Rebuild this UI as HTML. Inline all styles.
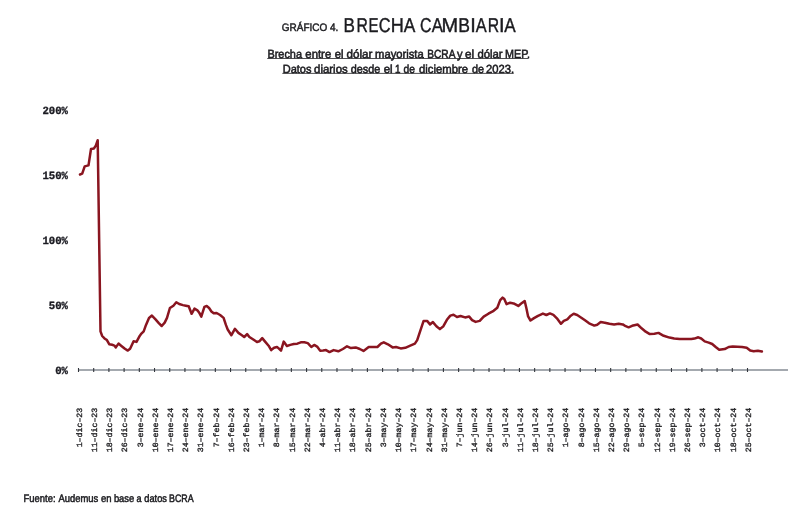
<!DOCTYPE html>
<html><head><meta charset="utf-8">
<style>
html,body{margin:0;padding:0;background:#fff;}
body{width:800px;height:516px;overflow:hidden;}
svg{display:block;will-change:transform;} text{text-rendering:geometricPrecision;}
.sans{font-family:"Liberation Sans",sans-serif;}
.mono{font-family:"Liberation Mono",monospace;}
</style></head><body>
<svg width="800" height="516" viewBox="0 0 800 516">
<rect width="800" height="516" fill="#fff"/>
<g class="sans" fill="#1b1b1f" stroke="#1b1b1f" stroke-width="0.3">
<text x="281.8" y="31.4" font-size="10.8" stroke-width="0.45" textLength="56.6" lengthAdjust="spacingAndGlyphs">GRÁFICO 4.</text>
<text transform="translate(343.55,31.75) scale(0.855,1)" font-size="20.0" stroke-width="0.4">B</text><text transform="translate(356.41,31.75) scale(0.787,1)" font-size="20.0" stroke-width="0.4">R</text><text transform="translate(368.47,31.75) scale(0.747,1)" font-size="20.0" stroke-width="0.4">E</text><text transform="translate(378.87,31.75) scale(0.817,1)" font-size="20.0" stroke-width="0.4">C</text><text transform="translate(390.72,31.75) scale(0.904,1)" font-size="20.0" stroke-width="0.4">H</text><text transform="translate(403.67,31.75) scale(0.867,1)" font-size="20.0" stroke-width="0.4">A</text><text transform="translate(419.89,31.75) scale(0.797,1)" font-size="20.0" stroke-width="0.4">C</text><text transform="translate(431.67,31.75) scale(0.837,1)" font-size="20.0" stroke-width="0.4">A</text><text transform="translate(441.42,31.75) scale(1.000,1)" font-size="20.0" stroke-width="0.4">M</text><text transform="translate(458.26,31.75) scale(0.878,1)" font-size="20.0" stroke-width="0.4">B</text><text transform="translate(470.22,31.75) scale(1.000,1)" font-size="20.0" stroke-width="0.4">I</text><text transform="translate(475.67,31.75) scale(0.818,1)" font-size="20.0" stroke-width="0.4">A</text><text transform="translate(487.66,31.75) scale(0.787,1)" font-size="20.0" stroke-width="0.4">R</text><text transform="translate(498.97,31.75) scale(1.000,1)" font-size="20.0" stroke-width="0.4">I</text><text transform="translate(504.17,31.75) scale(0.856,1)" font-size="20.0" stroke-width="0.4">A</text>
<text x="267.44" y="57.6" font-size="11.8" textLength="34.57" lengthAdjust="spacingAndGlyphs" stroke-width="0.55">Brecha</text><text x="305.32" y="57.6" font-size="11.8" textLength="25.88" lengthAdjust="spacingAndGlyphs" stroke-width="0.55">entre</text><text x="334.68" y="57.6" font-size="11.8" textLength="8.76" lengthAdjust="spacingAndGlyphs" stroke-width="0.55">el</text><text x="346.44" y="57.6" font-size="11.8" textLength="25.88" lengthAdjust="spacingAndGlyphs" stroke-width="0.55">dólar</text><text x="375.05" y="57.6" font-size="11.8" textLength="48.65" lengthAdjust="spacingAndGlyphs" stroke-width="0.55">mayorista</text><text x="427.25" y="57.6" font-size="11.8" textLength="28.18" lengthAdjust="spacingAndGlyphs" stroke-width="0.55">BCRA</text><text x="456.97" y="57.6" font-size="11.8" textLength="5.55" lengthAdjust="spacingAndGlyphs" stroke-width="0.55">y</text><text x="464.95" y="57.6" font-size="11.8" textLength="9.18" lengthAdjust="spacingAndGlyphs" stroke-width="0.55">el</text><text x="477.41" y="57.6" font-size="11.8" textLength="25.23" lengthAdjust="spacingAndGlyphs" stroke-width="0.55">dólar</text><text x="505.06" y="57.6" font-size="11.8" textLength="24.99" lengthAdjust="spacingAndGlyphs" stroke-width="0.55">MEP.</text>
<text x="282.74" y="72.6" font-size="11.8" textLength="28.77" lengthAdjust="spacingAndGlyphs" stroke-width="0.55">Datos</text><text x="314.08" y="72.6" font-size="11.8" textLength="33.62" lengthAdjust="spacingAndGlyphs" stroke-width="0.55">diarios</text><text x="350.73" y="72.6" font-size="11.8" textLength="29.57" lengthAdjust="spacingAndGlyphs" stroke-width="0.55">desde</text><text x="383.66" y="72.6" font-size="11.8" textLength="8.97" lengthAdjust="spacingAndGlyphs" stroke-width="0.55">el</text><text x="395.01" y="72.6" font-size="11.8" textLength="5.46" lengthAdjust="spacingAndGlyphs" stroke-width="0.55">1</text><text x="403.59" y="72.6" font-size="11.8" textLength="11.45" lengthAdjust="spacingAndGlyphs" stroke-width="0.55">de</text><text x="418.99" y="72.6" font-size="11.8" textLength="49.05" lengthAdjust="spacingAndGlyphs" stroke-width="0.55">diciembre</text><text x="471.92" y="72.6" font-size="11.8" textLength="12.08" lengthAdjust="spacingAndGlyphs" stroke-width="0.55">de</text><text x="486.09" y="72.6" font-size="11.8" textLength="28.09" lengthAdjust="spacingAndGlyphs" stroke-width="0.55">2023.</text>
<rect x="267.2" y="58.1" width="261.4" height="0.9" stroke="none" fill-opacity="0.85"/>
<rect x="282.3" y="72.9" width="231.4" height="0.9" stroke="none" fill-opacity="0.85"/>
<text x="23.55" y="502.0" font-size="10.8" textLength="31.99" lengthAdjust="spacingAndGlyphs" stroke-width="0.5">Fuente:</text><text x="58.50" y="502.0" font-size="10.8" textLength="39.81" lengthAdjust="spacingAndGlyphs" stroke-width="0.5">Audemus</text><text x="100.95" y="502.0" font-size="10.8" textLength="10.56" lengthAdjust="spacingAndGlyphs" stroke-width="0.5">en</text><text x="113.88" y="502.0" font-size="10.8" textLength="20.34" lengthAdjust="spacingAndGlyphs" stroke-width="0.5">base</text><text x="136.45" y="502.0" font-size="10.8" textLength="5.02" lengthAdjust="spacingAndGlyphs" stroke-width="0.5">a</text><text x="144.30" y="502.0" font-size="10.8" textLength="22.60" lengthAdjust="spacingAndGlyphs" stroke-width="0.5">datos</text><text x="168.99" y="502.0" font-size="10.8" textLength="24.67" lengthAdjust="spacingAndGlyphs" stroke-width="0.5">BCRA</text>
</g>
<g class="mono" font-weight="bold" font-size="11" fill="#1b1b22" stroke="#1b1b22" stroke-width="0.35">
<text x="68.0" y="373.75" text-anchor="end" textLength="12.8" lengthAdjust="spacingAndGlyphs">0%</text><text x="68.0" y="308.75" text-anchor="end" textLength="19.2" lengthAdjust="spacingAndGlyphs">50%</text><text x="68.0" y="243.75" text-anchor="end" textLength="25.6" lengthAdjust="spacingAndGlyphs">100%</text><text x="68.0" y="178.75" text-anchor="end" textLength="25.6" lengthAdjust="spacingAndGlyphs">150%</text><text x="68.0" y="113.75" text-anchor="end" textLength="25.6" lengthAdjust="spacingAndGlyphs">200%</text>
</g>
<line x1="78" y1="370" x2="788" y2="370" stroke="#868d95" stroke-width="1.6"/>
<g stroke="#33363c" stroke-width="1.1">
<line x1="78.50" y1="368.0" x2="78.50" y2="372.0"/><line x1="93.70" y1="368.0" x2="93.70" y2="372.0"/><line x1="108.91" y1="368.0" x2="108.91" y2="372.0"/><line x1="124.11" y1="368.0" x2="124.11" y2="372.0"/><line x1="139.32" y1="368.0" x2="139.32" y2="372.0"/><line x1="154.52" y1="368.0" x2="154.52" y2="372.0"/><line x1="169.73" y1="368.0" x2="169.73" y2="372.0"/><line x1="184.93" y1="368.0" x2="184.93" y2="372.0"/><line x1="200.14" y1="368.0" x2="200.14" y2="372.0"/><line x1="215.34" y1="368.0" x2="215.34" y2="372.0"/><line x1="230.55" y1="368.0" x2="230.55" y2="372.0"/><line x1="245.75" y1="368.0" x2="245.75" y2="372.0"/><line x1="260.95" y1="368.0" x2="260.95" y2="372.0"/><line x1="276.16" y1="368.0" x2="276.16" y2="372.0"/><line x1="291.36" y1="368.0" x2="291.36" y2="372.0"/><line x1="306.57" y1="368.0" x2="306.57" y2="372.0"/><line x1="321.77" y1="368.0" x2="321.77" y2="372.0"/><line x1="336.98" y1="368.0" x2="336.98" y2="372.0"/><line x1="352.18" y1="368.0" x2="352.18" y2="372.0"/><line x1="367.39" y1="368.0" x2="367.39" y2="372.0"/><line x1="382.59" y1="368.0" x2="382.59" y2="372.0"/><line x1="397.80" y1="368.0" x2="397.80" y2="372.0"/><line x1="413.00" y1="368.0" x2="413.00" y2="372.0"/><line x1="428.20" y1="368.0" x2="428.20" y2="372.0"/><line x1="443.41" y1="368.0" x2="443.41" y2="372.0"/><line x1="458.61" y1="368.0" x2="458.61" y2="372.0"/><line x1="473.82" y1="368.0" x2="473.82" y2="372.0"/><line x1="489.02" y1="368.0" x2="489.02" y2="372.0"/><line x1="504.23" y1="368.0" x2="504.23" y2="372.0"/><line x1="519.43" y1="368.0" x2="519.43" y2="372.0"/><line x1="534.64" y1="368.0" x2="534.64" y2="372.0"/><line x1="549.84" y1="368.0" x2="549.84" y2="372.0"/><line x1="565.05" y1="368.0" x2="565.05" y2="372.0"/><line x1="580.25" y1="368.0" x2="580.25" y2="372.0"/><line x1="595.45" y1="368.0" x2="595.45" y2="372.0"/><line x1="610.66" y1="368.0" x2="610.66" y2="372.0"/><line x1="625.86" y1="368.0" x2="625.86" y2="372.0"/><line x1="641.07" y1="368.0" x2="641.07" y2="372.0"/><line x1="656.27" y1="368.0" x2="656.27" y2="372.0"/><line x1="671.48" y1="368.0" x2="671.48" y2="372.0"/><line x1="686.68" y1="368.0" x2="686.68" y2="372.0"/><line x1="701.89" y1="368.0" x2="701.89" y2="372.0"/><line x1="717.09" y1="368.0" x2="717.09" y2="372.0"/><line x1="732.30" y1="368.0" x2="732.30" y2="372.0"/><line x1="747.50" y1="368.0" x2="747.50" y2="372.0"/>
</g>
<g class="mono" font-size="8.0" fill="#1f1f22" stroke="#1f1f22" stroke-width="0.35">
<text transform="translate(81.80,407.8) rotate(-90)" text-anchor="end" textLength="39.52" lengthAdjust="spacingAndGlyphs">1&#8211;dic&#8211;23</text><text transform="translate(97.00,407.8) rotate(-90)" text-anchor="end" textLength="44.46" lengthAdjust="spacingAndGlyphs">11&#8211;dic&#8211;23</text><text transform="translate(112.21,407.8) rotate(-90)" text-anchor="end" textLength="44.46" lengthAdjust="spacingAndGlyphs">18&#8211;dic&#8211;23</text><text transform="translate(127.41,407.8) rotate(-90)" text-anchor="end" textLength="44.46" lengthAdjust="spacingAndGlyphs">26&#8211;dic&#8211;23</text><text transform="translate(142.62,407.8) rotate(-90)" text-anchor="end" textLength="39.52" lengthAdjust="spacingAndGlyphs">3&#8211;ene&#8211;24</text><text transform="translate(157.82,407.8) rotate(-90)" text-anchor="end" textLength="44.46" lengthAdjust="spacingAndGlyphs">10&#8211;ene&#8211;24</text><text transform="translate(173.03,407.8) rotate(-90)" text-anchor="end" textLength="44.46" lengthAdjust="spacingAndGlyphs">17&#8211;ene&#8211;24</text><text transform="translate(188.23,407.8) rotate(-90)" text-anchor="end" textLength="44.46" lengthAdjust="spacingAndGlyphs">24&#8211;ene&#8211;24</text><text transform="translate(203.44,407.8) rotate(-90)" text-anchor="end" textLength="44.46" lengthAdjust="spacingAndGlyphs">31&#8211;ene&#8211;24</text><text transform="translate(218.64,407.8) rotate(-90)" text-anchor="end" textLength="39.52" lengthAdjust="spacingAndGlyphs">7&#8211;feb&#8211;24</text><text transform="translate(233.85,407.8) rotate(-90)" text-anchor="end" textLength="44.46" lengthAdjust="spacingAndGlyphs">16&#8211;feb&#8211;24</text><text transform="translate(249.05,407.8) rotate(-90)" text-anchor="end" textLength="44.46" lengthAdjust="spacingAndGlyphs">23&#8211;feb&#8211;24</text><text transform="translate(264.25,407.8) rotate(-90)" text-anchor="end" textLength="39.52" lengthAdjust="spacingAndGlyphs">1&#8211;mar&#8211;24</text><text transform="translate(279.46,407.8) rotate(-90)" text-anchor="end" textLength="39.52" lengthAdjust="spacingAndGlyphs">8&#8211;mar&#8211;24</text><text transform="translate(294.66,407.8) rotate(-90)" text-anchor="end" textLength="44.46" lengthAdjust="spacingAndGlyphs">15&#8211;mar&#8211;24</text><text transform="translate(309.87,407.8) rotate(-90)" text-anchor="end" textLength="44.46" lengthAdjust="spacingAndGlyphs">22&#8211;mar&#8211;24</text><text transform="translate(325.07,407.8) rotate(-90)" text-anchor="end" textLength="39.52" lengthAdjust="spacingAndGlyphs">4&#8211;abr&#8211;24</text><text transform="translate(340.28,407.8) rotate(-90)" text-anchor="end" textLength="44.46" lengthAdjust="spacingAndGlyphs">11&#8211;abr&#8211;24</text><text transform="translate(355.48,407.8) rotate(-90)" text-anchor="end" textLength="44.46" lengthAdjust="spacingAndGlyphs">18&#8211;abr&#8211;24</text><text transform="translate(370.69,407.8) rotate(-90)" text-anchor="end" textLength="44.46" lengthAdjust="spacingAndGlyphs">25&#8211;abr&#8211;24</text><text transform="translate(385.89,407.8) rotate(-90)" text-anchor="end" textLength="39.52" lengthAdjust="spacingAndGlyphs">3&#8211;may&#8211;24</text><text transform="translate(401.10,407.8) rotate(-90)" text-anchor="end" textLength="44.46" lengthAdjust="spacingAndGlyphs">10&#8211;may&#8211;24</text><text transform="translate(416.30,407.8) rotate(-90)" text-anchor="end" textLength="44.46" lengthAdjust="spacingAndGlyphs">17&#8211;may&#8211;24</text><text transform="translate(431.50,407.8) rotate(-90)" text-anchor="end" textLength="44.46" lengthAdjust="spacingAndGlyphs">24&#8211;may&#8211;24</text><text transform="translate(446.71,407.8) rotate(-90)" text-anchor="end" textLength="44.46" lengthAdjust="spacingAndGlyphs">31&#8211;may&#8211;24</text><text transform="translate(461.91,407.8) rotate(-90)" text-anchor="end" textLength="39.52" lengthAdjust="spacingAndGlyphs">7&#8211;jun&#8211;24</text><text transform="translate(477.12,407.8) rotate(-90)" text-anchor="end" textLength="44.46" lengthAdjust="spacingAndGlyphs">14&#8211;jun&#8211;24</text><text transform="translate(492.32,407.8) rotate(-90)" text-anchor="end" textLength="44.46" lengthAdjust="spacingAndGlyphs">26&#8211;jun&#8211;24</text><text transform="translate(507.53,407.8) rotate(-90)" text-anchor="end" textLength="39.52" lengthAdjust="spacingAndGlyphs">3&#8211;jul&#8211;24</text><text transform="translate(522.73,407.8) rotate(-90)" text-anchor="end" textLength="44.46" lengthAdjust="spacingAndGlyphs">11&#8211;jul&#8211;24</text><text transform="translate(537.94,407.8) rotate(-90)" text-anchor="end" textLength="44.46" lengthAdjust="spacingAndGlyphs">18&#8211;jul&#8211;24</text><text transform="translate(553.14,407.8) rotate(-90)" text-anchor="end" textLength="44.46" lengthAdjust="spacingAndGlyphs">25&#8211;jul&#8211;24</text><text transform="translate(568.35,407.8) rotate(-90)" text-anchor="end" textLength="39.52" lengthAdjust="spacingAndGlyphs">1&#8211;ago&#8211;24</text><text transform="translate(583.55,407.8) rotate(-90)" text-anchor="end" textLength="39.52" lengthAdjust="spacingAndGlyphs">8&#8211;ago&#8211;24</text><text transform="translate(598.75,407.8) rotate(-90)" text-anchor="end" textLength="44.46" lengthAdjust="spacingAndGlyphs">15&#8211;ago&#8211;24</text><text transform="translate(613.96,407.8) rotate(-90)" text-anchor="end" textLength="44.46" lengthAdjust="spacingAndGlyphs">22&#8211;ago&#8211;24</text><text transform="translate(629.16,407.8) rotate(-90)" text-anchor="end" textLength="44.46" lengthAdjust="spacingAndGlyphs">29&#8211;ago&#8211;24</text><text transform="translate(644.37,407.8) rotate(-90)" text-anchor="end" textLength="39.52" lengthAdjust="spacingAndGlyphs">5&#8211;sep&#8211;24</text><text transform="translate(659.57,407.8) rotate(-90)" text-anchor="end" textLength="44.46" lengthAdjust="spacingAndGlyphs">12&#8211;sep&#8211;24</text><text transform="translate(674.78,407.8) rotate(-90)" text-anchor="end" textLength="44.46" lengthAdjust="spacingAndGlyphs">19&#8211;sep&#8211;24</text><text transform="translate(689.98,407.8) rotate(-90)" text-anchor="end" textLength="44.46" lengthAdjust="spacingAndGlyphs">26&#8211;sep&#8211;24</text><text transform="translate(705.19,407.8) rotate(-90)" text-anchor="end" textLength="39.52" lengthAdjust="spacingAndGlyphs">3&#8211;oct&#8211;24</text><text transform="translate(720.39,407.8) rotate(-90)" text-anchor="end" textLength="44.46" lengthAdjust="spacingAndGlyphs">10&#8211;oct&#8211;24</text><text transform="translate(735.60,407.8) rotate(-90)" text-anchor="end" textLength="44.46" lengthAdjust="spacingAndGlyphs">18&#8211;oct&#8211;24</text><text transform="translate(750.80,407.8) rotate(-90)" text-anchor="end" textLength="44.46" lengthAdjust="spacingAndGlyphs">25&#8211;oct&#8211;24</text>
</g>
<polyline points="80.0,174.5 82.2,173.7 84.7,166.4 88.5,165.4 91.0,149.0 93.9,148.5 95.8,145.6 97.7,140.2 100.5,331.4 102.2,336.0 104.5,338.4 106.9,340.1 109.2,344.2 112.1,344.8 114.4,345.6 115.8,347.4 118.5,343.6 121.4,345.9 124.9,348.8 127.8,350.6 130.1,348.8 133.6,341.3 136.5,341.9 139.7,335.9 141.4,333.6 143.7,331.3 146.0,324.9 149.0,317.9 151.9,315.6 155.3,319.1 158.8,323.1 161.7,326.0 164.7,322.6 167.0,317.9 169.9,308.0 173.4,305.7 176.3,302.2 179.2,304.0 182.9,305.1 185.8,305.7 188.7,306.3 191.6,313.8 194.5,308.6 197.4,310.3 199.2,312.7 201.3,316.7 204.4,306.9 206.7,306.0 209.1,308.0 211.4,311.5 213.7,313.3 216.6,313.0 220.1,315.0 223.6,317.9 225.9,324.9 227.7,329.5 231.4,335.2 234.9,328.8 238.4,332.9 241.9,335.2 244.2,337.0 247.1,334.1 249.4,337.0 252.9,339.3 257.0,342.0 259.3,341.3 262.2,338.1 265.1,341.6 268.6,345.7 271.2,350.1 274.1,347.8 277.0,347.0 278.7,348.4 281.0,350.7 283.7,341.6 286.9,346.0 290.3,344.9 293.8,344.0 297.3,343.7 300.8,342.3 304.3,342.3 307.8,343.1 311.3,347.0 314.2,344.9 317.1,346.6 320.2,350.7 323.1,350.5 326.0,350.1 329.5,352.1 333.6,350.1 338.3,351.3 342.9,349.0 347.0,346.3 351.0,348.1 355.7,347.4 359.8,349.0 363.5,350.9 368.7,347.0 372.8,347.0 377.4,347.0 380.9,343.7 383.8,342.3 387.9,344.3 392.6,347.4 396.0,347.0 400.7,348.4 405.3,347.8 409.7,345.9 414.9,343.6 417.2,340.1 420.1,331.4 423.6,320.9 427.1,320.9 430.0,324.4 432.9,322.1 436.4,326.2 439.9,329.1 443.4,326.2 446.9,319.8 450.3,315.6 453.5,314.7 457.0,317.0 460.5,316.0 465.1,317.4 469.2,316.6 472.1,320.1 475.6,321.9 479.7,320.9 483.7,316.6 488.4,313.7 493.6,310.8 497.3,307.7 500.2,300.1 502.6,297.6 504.3,299.0 506.6,304.2 510.1,302.7 513.6,303.4 518.3,305.9 521.2,303.6 524.7,301.0 526.4,308.3 528.1,316.4 530.5,320.5 534.0,318.1 538.0,315.8 542.9,313.6 546.4,315.0 549.9,313.4 553.4,314.8 556.9,318.3 560.9,323.8 563.8,320.8 567.3,319.4 570.8,315.7 573.7,313.8 577.2,315.0 581.3,317.7 585.0,320.3 589.1,323.3 594.3,325.6 597.2,324.7 600.7,322.1 604.8,322.7 609.4,323.8 614.1,324.4 618.7,323.8 622.8,324.4 625.7,326.2 628.6,327.3 632.1,325.8 637.6,324.5 641.6,328.3 645.7,331.7 649.8,334.1 654.4,333.8 658.5,332.9 663.7,335.8 669.5,337.6 674.2,338.5 679.7,339.1 685.5,339.0 691.3,339.0 694.5,338.6 698.3,337.3 701.2,338.5 704.7,341.4 708.7,342.6 712.2,344.0 715.7,347.0 719.2,349.8 724.7,349.1 728.7,347.0 732.8,346.5 737.4,346.7 742.1,347.0 746.7,347.7 750.2,350.5 753.7,351.2 757.8,350.8 761.9,351.6" fill="none" stroke="#8a1520" stroke-width="2.5" stroke-linejoin="round" stroke-linecap="round"/>
</svg>
</body></html>
